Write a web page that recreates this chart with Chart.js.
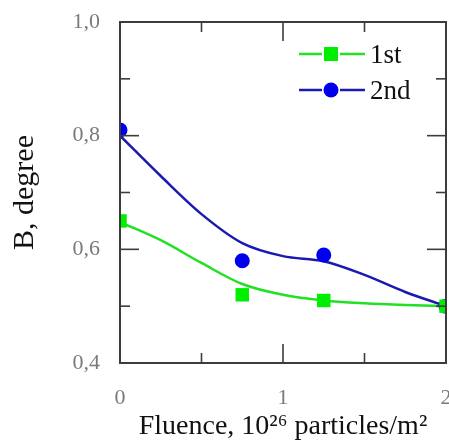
<!DOCTYPE html>
<html><head><meta charset="utf-8">
<script src="https://cdn.jsdelivr.net/npm/chart.js@4"></script>
<style>
html,body{margin:0;padding:0;overflow:hidden;background:#fff;width:449px;height:443px}
#wrap{position:relative;width:449px;height:443px;overflow:hidden}
canvas{display:block}
</style></head><body>
<div id="wrap"><canvas id="c" width="460" height="443" style="width:460px;height:443px"></canvas></div>
<script>
// ---- data ----
const seriesNames = ['1st', '2nd'];
const fluence = [0, 0.75, 1.25, 2];
const first = [0.65, 0.52, 0.51, 0.50];
const second = [0.81, 0.58, 0.59, 0.50];
// fitted curves
const fitX = [0, 0.25, 0.5, 0.75, 1, 1.25, 1.5, 1.75, 2];
const fitFirst = [0.648, 0.616, 0.576, 0.539, 0.520, 0.510, 0.505, 0.502, 0.500];
const fitSecond = [0.800, 0.729, 0.662, 0.611, 0.588, 0.579, 0.555, 0.525, 0.500];
// ticks
const xTickValues = [0, 1, 2];
const xMinorTicks = [0.5, 1.5];
const yTickValues = [0.4, 0.6, 0.8, 1.0];
const yMinorTicks = [0.5, 0.7, 0.9];
const xTitle = 'Fluence, 10\u00B2\u2076 particles/m\u00B2';
const yTitle = 'B, degree';

const GREEN_M = '#00ee00', GREEN_L = '#22e022';
const BLUE_M = '#0000ee', BLUE_L = '#1a1ab0';
const SERIF = "'Liberation Serif', 'Times New Roman', serif";

const pts = (xs, ys) => xs.map((v, i) => ({x: v, y: ys[i]}));

const framePlugin = {
  id: 'frame',
  afterDatasetsDraw(chart) {
    const {ctx, chartArea: a, scales: {x, y}} = chart;
    ctx.save();
    ctx.strokeStyle = '#3c3c3c';
    ctx.lineWidth = 1.6;
    const seg = (x1, y1, x2, y2) => { ctx.beginPath(); ctx.moveTo(x1, y1); ctx.lineTo(x2, y2); ctx.stroke(); };
    xTickValues.slice(1, -1).forEach(v => { const p = x.getPixelForValue(v); seg(p, a.bottom, p, a.bottom - 19); seg(p, a.top, p, a.top + 19); });
    xMinorTicks.forEach(v => { const p = x.getPixelForValue(v); seg(p, a.bottom, p, a.bottom - 10); seg(p, a.top, p, a.top + 10); });
    yTickValues.slice(1, -1).forEach(v => { const p = y.getPixelForValue(v); seg(a.left, p, a.left + 19, p); seg(a.right, p, a.right - 19, p); });
    yMinorTicks.forEach(v => { const p = y.getPixelForValue(v); seg(a.left, p, a.left + 10, p); seg(a.right, p, a.right - 10, p); });
    ctx.lineWidth = 2;
    ctx.strokeRect(a.left, a.top, a.right - a.left, a.bottom - a.top);
    ctx.restore();
  }
};

const legendPlugin = {
  id: 'lineLegend',
  afterDraw(chart) {
    const {ctx, chartArea: a} = chart;
    ctx.save();
    const items = [
      {name: seriesNames[0], line: GREEN_L, mark: GREEN_M, style: 'rect'},
      {name: seriesNames[1], line: BLUE_L, mark: BLUE_M, style: 'circle'}
    ];
    items.forEach((it, i) => {
      const yy = a.top + 32 + i * 36;
      const x0 = a.left + 179, x1 = a.left + 245, xm = a.left + 211;
      ctx.strokeStyle = it.line; ctx.lineWidth = 2.5;
      ctx.beginPath(); ctx.moveTo(x0, yy); ctx.lineTo(xm - 9, yy); ctx.stroke();
      ctx.beginPath(); ctx.moveTo(xm + 9, yy); ctx.lineTo(x1, yy); ctx.stroke();
      ctx.fillStyle = it.mark;
      if (it.style === 'rect') ctx.fillRect(xm - 7, yy - 7, 14, 14);
      else { ctx.beginPath(); ctx.arc(xm, yy, 7.5, 0, Math.PI * 2); ctx.fill(); }
      ctx.fillStyle = '#111';
      ctx.font = '27px ' + SERIF;
      ctx.textBaseline = 'middle';
      ctx.textAlign = 'left';
      ctx.fillText(it.name, a.left + 250, yy + 2);
    });
    ctx.restore();
  }
};

const fmt = v => v.toFixed(1).replace('.', ',');
const hiddenGrid = len => ({display: true, drawOnChartArea: false, drawTicks: true, tickLength: len, tickColor: 'rgba(0,0,0,0)'});

new Chart(document.getElementById('c'), {
  type: 'scatter',
  data: {
    datasets: [
      {label: seriesNames[0], data: pts(fluence, first), showLine: false, pointStyle: 'rect', pointRadius: 9.5, pointHoverRadius: 9.5, backgroundColor: GREEN_M, borderWidth: 0},
      {label: seriesNames[1], data: pts(fluence, second), showLine: false, pointStyle: 'circle', pointRadius: 7.5, pointHoverRadius: 7.5, backgroundColor: BLUE_M, borderWidth: 0},
      {label: seriesNames[0] + ' fit', data: pts(fitX, fitFirst), showLine: true, pointRadius: 0, borderColor: GREEN_L, borderWidth: 2.5, cubicInterpolationMode: 'monotone', fill: false},
      {label: seriesNames[1] + ' fit', data: pts(fitX, fitSecond), showLine: true, pointRadius: 0, borderColor: BLUE_L, borderWidth: 2.5, cubicInterpolationMode: 'monotone', fill: false}
    ]
  },
  options: {
    responsive: false,
    animation: false,
    events: [],
    layout: {padding: {left: 0, right: 14, top: 22, bottom: 0}},
    plugins: {legend: {display: false}, tooltip: {enabled: false}},
    scales: {
      x: {
        type: 'linear', min: 0, max: 2,
        afterBuildTicks: s => { s.ticks = xTickValues.map(v => ({value: v})); },
        ticks: {callback: v => String(v), color: '#7a7a7a', padding: 0, font: {family: SERIF, size: 22}, maxRotation: 0},
        grid: hiddenGrid(22), border: {display: false},
        title: {display: true, text: xTitle, color: '#111', font: {family: SERIF, size: 28}, padding: {top: 0, bottom: 0}},
        afterFit: s => { s.height = 80; }
      },
      y: {
        type: 'linear', min: 0.4, max: 1.0,
        afterBuildTicks: s => { s.ticks = yTickValues.map(v => ({value: v})); },
        ticks: {callback: v => fmt(v), color: '#7a7a7a', padding: 0, font: {family: SERIF, size: 22}},
        grid: hiddenGrid(20), border: {display: false},
        title: {display: true, text: yTitle, color: '#111', font: {family: SERIF, size: 30}, padding: {top: 7, bottom: 0}},
        afterFit: s => { s.width = 120; }
      }
    }
  },
  plugins: [framePlugin, legendPlugin]
});
</script>
</body></html>
